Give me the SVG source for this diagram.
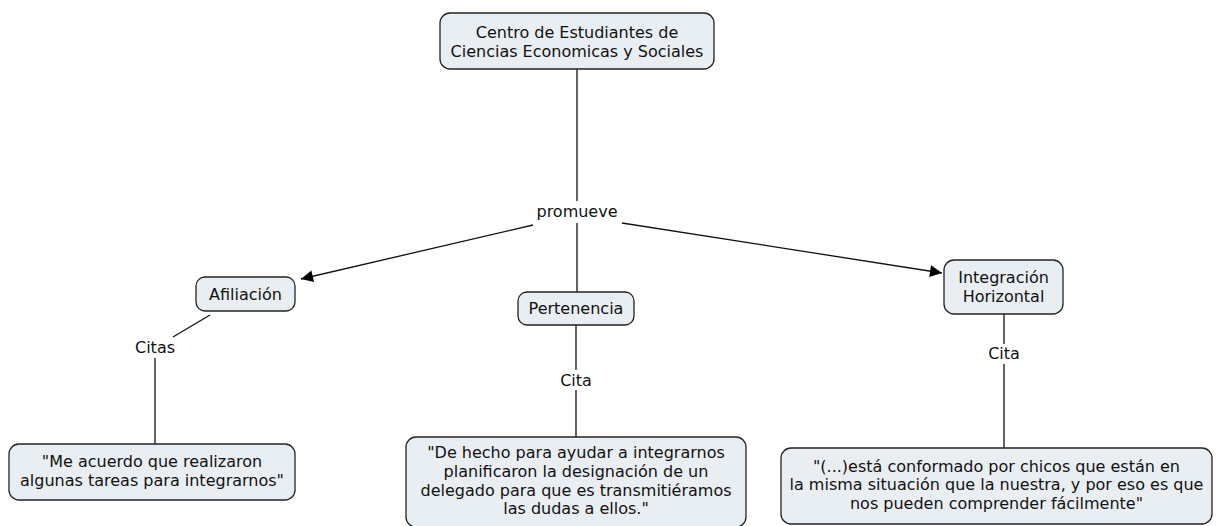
<svg xmlns="http://www.w3.org/2000/svg" width="1216" height="526" viewBox="0 0 1216 526">
<style>
.node{fill:#e9eef2;stroke:#222;stroke-width:1.3}
.t{font-family:"DejaVu Sans",Verdana,sans-serif;font-size:16px;fill:#111;text-anchor:middle}
.c{stroke:#111;stroke-width:1.3;fill:none}
</style>
<defs>
<marker id="ah" viewBox="0 0 10 10" refX="10" refY="5" markerWidth="16" markerHeight="12" markerUnits="userSpaceOnUse" orient="auto">
<path d="M0,0 L10,5 L0,10 z" fill="#000"/>
</marker>
</defs>
<rect width="1216" height="526" fill="#fff"/>
<g id="connectors">
<line class="c" x1="577" y1="69" x2="577" y2="201"/>
<line class="c" x1="533" y1="225" x2="301" y2="279" marker-end="url(#ah)"/>
<line class="c" x1="622" y1="223" x2="942" y2="273" marker-end="url(#ah)"/>
<line class="c" x1="577" y1="223" x2="577" y2="292"/>
<line class="c" x1="210" y1="315" x2="173" y2="337"/>
<line class="c" x1="155" y1="358" x2="155" y2="444"/>
<line class="c" x1="576" y1="325" x2="576" y2="370"/>
<line class="c" x1="576" y1="390" x2="576" y2="437"/>
<line class="c" x1="1004" y1="314" x2="1004" y2="344"/>
<line class="c" x1="1004" y1="364" x2="1004" y2="448"/>
<text class="t" x="577" y="217">promueve</text>
<text class="t" x="155" y="353">Citas</text>
<text class="t" x="576" y="386">Cita</text>
<text class="t" x="1004" y="359">Cita</text>
</g>
<g id="centro">
<rect class="node" x="440" y="13" width="274" height="56" rx="10"/>
<text class="t" x="577" y="38">Centro de Estudiantes de</text>
<text class="t" x="577" y="57">Ciencias Economicas y Sociales</text>
</g>
<g id="afiliacion">
<rect class="node" x="196" y="277" width="99" height="34" rx="9"/>
<text class="t" x="245.5" y="300">Afiliación</text>
</g>
<g id="pertenencia">
<rect class="node" x="518" y="292" width="116" height="33" rx="9"/>
<text class="t" x="576" y="314">Pertenencia</text>
</g>
<g id="integracion">
<rect class="node" x="944" y="260" width="119" height="54" rx="10"/>
<text class="t" x="1003.5" y="283">Integración</text>
<text class="t" x="1003.5" y="302">Horizontal</text>
</g>
<g id="cita1">
<rect class="node" x="9" y="444" width="286" height="56" rx="10"/>
<text class="t" x="152" y="467">"Me acuerdo que realizaron</text>
<text class="t" x="152" y="486">algunas tareas para integrarnos"</text>
</g>
<g id="cita2">
<rect class="node" x="406" y="437" width="340" height="90" rx="10"/>
<text class="t" x="576" y="458">"De hecho para ayudar a integrarnos</text>
<text class="t" x="576" y="477">planificaron la designación de un</text>
<text class="t" x="576" y="496">delegado para que es transmitiéramos</text>
<text class="t" x="576" y="514">las dudas a ellos."</text>
</g>
<g id="cita3">
<rect class="node" x="781" y="448" width="431" height="76" rx="10"/>
<text class="t" x="996.5" y="472">"(...)está conformado por chicos que están en</text>
<text class="t" x="996.5" y="490">la misma situación que la nuestra, y por eso es que</text>
<text class="t" x="996.5" y="509">nos pueden comprender fácilmente"</text>
</g>
</svg>
